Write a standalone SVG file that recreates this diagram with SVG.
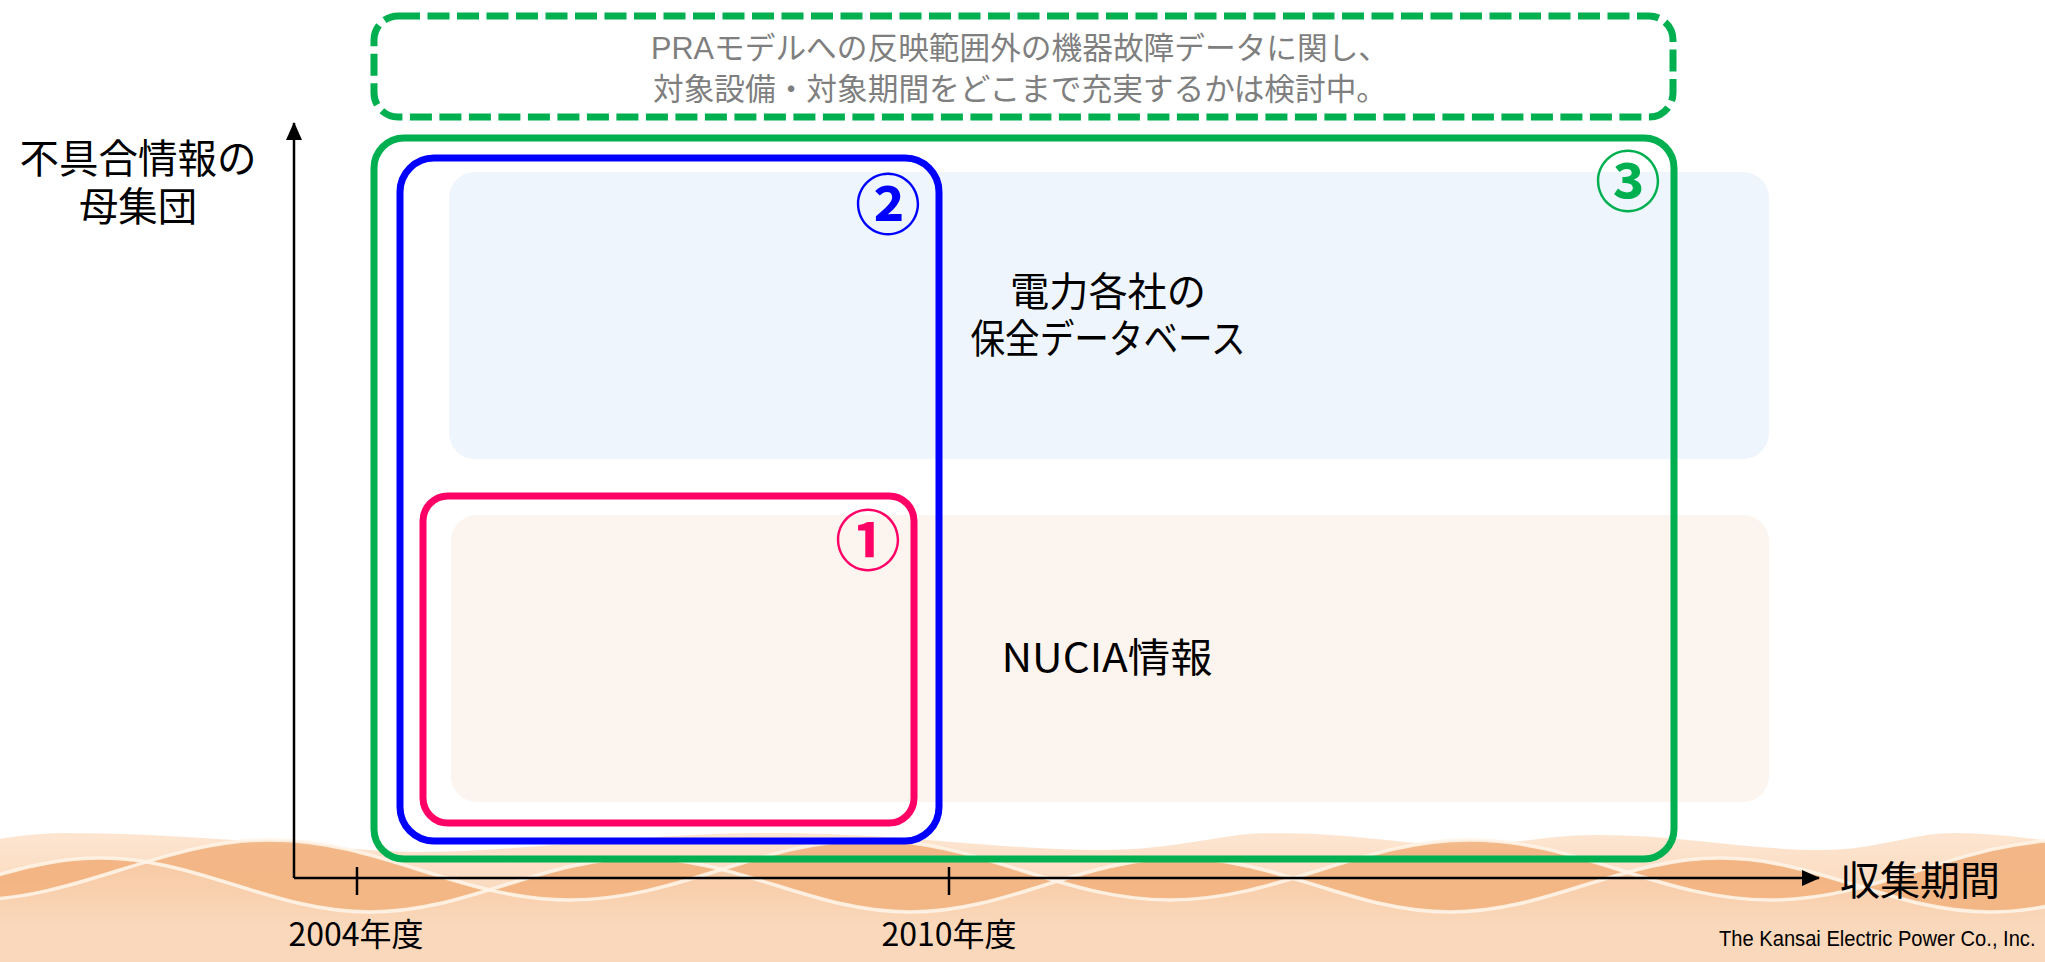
<svg xmlns="http://www.w3.org/2000/svg" width="2045" height="962" viewBox="0 0 2045 962">
  <defs>
    <style>
      .jp { font-family: "Noto Sans CJK JP", "Noto Sans", sans-serif; }
      .jpc { font-family: "Liberation Sans", "Noto Sans CJK JP", sans-serif; }
      .lat { font-family: "Liberation Sans", Arial, sans-serif; }
      .axis { stroke: #000; stroke-width: 2.5; fill: none; }
      .tick { stroke: #000; stroke-width: 2.5; }
      .frame { fill: none; stroke-width: 7; }
      .wave-line { fill: none; stroke: #fff4e8; stroke-width: 3.5; opacity: 0.9; }
    </style>
    <marker id="arrow" viewBox="0 0 18 16" refX="17" refY="8" markerWidth="18" markerHeight="16" markerUnits="userSpaceOnUse" orient="auto">
      <path d="M0 0 L18 8 L0 16 Z" fill="#000"/>
    </marker>
    <linearGradient id="bandLight" x1="0" y1="830" x2="0" y2="905" gradientUnits="userSpaceOnUse">
      <stop offset="0" stop-color="#fde6d2"/>
      <stop offset="1" stop-color="#fad8bb"/>
    </linearGradient>
    <linearGradient id="bandMid" x1="0" y1="860" x2="0" y2="925" gradientUnits="userSpaceOnUse">
      <stop offset="0" stop-color="#f6c49b"/>
      <stop offset="1" stop-color="#fad8bb"/>
    </linearGradient>
  </defs>

  <rect width="2045" height="962" fill="#ffffff"/>

  <!-- decorative wave band along the bottom -->
  <g id="wave-band">
    <path fill="url(#bandLight)" d="M -50 850 C 0 836 40 833 67 833 C 200 833 350 852 420 852 C 520 852 640 833 770 833 C 900 833 1000 850 1100 850 C 1180 850 1220 833 1270 833 C 1360 833 1400 845 1460 845 C 1520 845 1540 835 1600 835 C 1680 835 1750 850 1820 850 C 1880 850 1910 833 1953 833 C 2000 833 2030 840 2100 845 L 2100 962 L -50 962 Z"/>
    <path fill="url(#bandMid)" d="M -170 912 C -72 912 2 858 100 858 S 272 912 370 912 S 542 858 640 858 S 812 912 910 912 S 1082 858 1180 858 S 1352 912 1450 912 S 1622 858 1720 858 S 1892 912 1990 912 S 2162 858 2260 858 L 2260 962 L -170 962 Z" opacity="0.8"/>
    <path fill="#f2b27f" opacity="0.9" d="M -170 912 C -72 912 2 858 100 858 S 272 912 370 912 S 542 858 640 858 S 812 912 910 912 S 1082 858 1180 858 S 1352 912 1450 912 S 1622 858 1720 858 S 1892 912 1990 912 S 2162 858 2260 858 L 2370 900 C 2261 900 2179 840 2070 840 C 1961 840 1879 900 1770 900 C 1661 900 1579 840 1470 840 C 1361 840 1279 900 1170 900 C 1061 900 979 840 870 840 C 761 840 679 900 570 900 C 461 900 379 840 270 840 C 161 840 79 900 -30 900 C -139 900 -221 840 -330 840 Z"/>
    <path class="wave-line" d="M -170 912 C -72 912 2 858 100 858 S 272 912 370 912 S 542 858 640 858 S 812 912 910 912 S 1082 858 1180 858 S 1352 912 1450 912 S 1622 858 1720 858 S 1892 912 1990 912 S 2162 858 2260 858"/>
    <path class="wave-line" d="M -330 840 C -221 840 -139 900 -30 900 S 161 840 270 840 S 461 900 570 900 S 761 840 870 840 S 1061 900 1170 900 S 1361 840 1470 840 S 1661 900 1770 900 S 1961 840 2070 840 S 2261 900 2370 900"/>
  </g>

  <!-- data source bands -->
  <g id="maintenance-db">
    <rect x="449" y="172" width="1320" height="287" rx="26" fill="#eef5fc"/>
    <text class="jpc" x="1108" y="306" font-size="40" text-anchor="middle" fill="#000" textLength="196" lengthAdjust="spacingAndGlyphs">電力各社の</text>
    <text class="jpc" x="1108" y="353" font-size="40" text-anchor="middle" fill="#000" textLength="275" lengthAdjust="spacingAndGlyphs">保全データベース</text>
  </g>
  <g id="nucia">
    <rect x="451" y="515" width="1318" height="287" rx="26" fill="#fcf4ee"/>
    <text class="jp" x="1107" y="672" font-size="40" text-anchor="middle" fill="#000" textLength="211" lengthAdjust="spacingAndGlyphs">NUCIA情報</text>
  </g>

  <!-- note box -->
  <g id="note">
    <rect x="374" y="16" width="1299" height="101" rx="24" class="frame" stroke="#00b050" stroke-dasharray="22 7.5"/>
    <text class="jpc" x="1020" y="59" font-size="31" text-anchor="middle" fill="#7f7f7f" textLength="738" lengthAdjust="spacingAndGlyphs">PRAモデルへの反映範囲外の機器故障データに関し、</text>
    <text class="jpc" x="1020" y="100" font-size="31" text-anchor="middle" fill="#7f7f7f" textLength="734" lengthAdjust="spacingAndGlyphs">対象設備・対象期間をどこまで充実するかは検討中。</text>
  </g>

  <!-- scope frames -->
  <g id="scope-3">
    <rect x="374" y="138" width="1300" height="721" rx="30" class="frame" stroke="#00b050"/>
    <text class="jp" x="1628" y="206" font-size="66" font-weight="bold" text-anchor="middle" fill="#00b050">③</text>
  </g>
  <g id="scope-2">
    <rect x="400" y="158" width="539" height="683" rx="34" class="frame" stroke="#0000ff"/>
    <text class="jp" x="888" y="229" font-size="66" font-weight="bold" text-anchor="middle" fill="#0000ff">②</text>
  </g>
  <g id="scope-1">
    <rect x="423" y="496" width="491" height="327" rx="25" class="frame" stroke="#ff0066"/>
    <text class="jp" x="868" y="565" font-size="66" font-weight="bold" text-anchor="middle" fill="#ff0066">①</text>
  </g>

  <!-- axes and ticks -->
  <g id="connectors">
    <path class="axis" d="M294 878 L294 123" marker-end="url(#arrow)"/>
    <path class="axis" d="M294 878 L1819 878" marker-end="url(#arrow)"/>
    <line class="tick" x1="357" y1="867" x2="357" y2="895"/>
    <line class="tick" x1="949" y1="867" x2="949" y2="895"/>
  </g>

  <g id="axis-labels">
    <text class="jpc" x="138" y="173" font-size="40" text-anchor="middle" fill="#000" textLength="237" lengthAdjust="spacingAndGlyphs">不具合情報の</text>
    <text class="jpc" x="138" y="221" font-size="40" text-anchor="middle" fill="#000" textLength="118" lengthAdjust="spacingAndGlyphs">母集団</text>
    <text class="jp" x="1840" y="895" font-size="40" fill="#000">収集期間</text>
    <text class="jp" x="356" y="946" font-size="32" text-anchor="middle" fill="#000">2004年度</text>
    <text class="jp" x="949" y="946" font-size="32" text-anchor="middle" fill="#000">2010年度</text>
  </g>

  <!-- footer, set slightly condensed -->
  <text class="lat" transform="translate(1719 946) scale(0.915 1)" x="0" y="0" font-size="22" fill="#000">The Kansai Electric Power Co., Inc.</text>
</svg>
